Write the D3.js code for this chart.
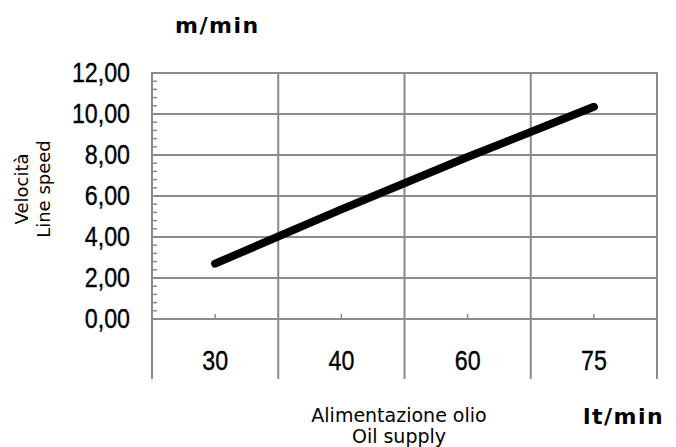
<!DOCTYPE html>
<html><head><meta charset="utf-8">
<script src="https://cdn.jsdelivr.net/npm/d3@7"></script>
<style>body{margin:0;background:#fff}</style>
</head><body><svg id="c" width="676" height="447"></svg>
<script>
const categories = ["30", "40", "60", "75"];
const speeds = [2.7, 5.35, 7.9, 10.35];
const yTicks = [0, 2, 4, 6, 8, 10, 12];
const yTickLabels = ["0,00", "2,00", "4,00", "6,00", "8,00", "10,00", "12,00"];
const yUnit = "m/min";
const xUnit = "lt/min";
const yTitle = ["Velocità", "Line speed"];
const xTitle = ["Alimentazione olio", "Oil supply"];

const svg = d3.select("#c");
const L = 152, R = 657, T = 73, B = 319, AXB = 379;
const x = d3.scaleBand().domain(categories).range([L, R]).padding(0);
const y = d3.scaleLinear().domain([0, 12]).range([B, T]);
const grid = "#8a8a8a";

// horizontal gridlines
svg.append("g").selectAll("line").data(yTicks).join("line")
  .attr("x1", L).attr("x2", R)
  .attr("y1", d => y(d)).attr("y2", d => y(d))
  .attr("stroke", grid).attr("stroke-width", 2);

// vertical lines (band boundaries)
const bounds = categories.map(c => x(c)).concat([R]);
svg.append("g").selectAll("line").data(bounds).join("line")
  .attr("x1", d => d).attr("x2", d => d)
  .attr("y1", T - 1).attr("y2", AXB)
  .attr("stroke", grid).attr("stroke-width", 2);

// minor ticks on left axis
const minor = d3.range(0, 31).filter(i => i % 5 !== 0).map(i => i * 0.4);
svg.append("g").selectAll("line").data(minor).join("line")
  .attr("x1", L).attr("x2", L + 5)
  .attr("y1", d => y(d)).attr("y2", d => y(d))
  .attr("stroke", grid).attr("stroke-width", 1.5);

// small x ticks at band centres
svg.append("g").selectAll("line").data(categories).join("line")
  .attr("x1", d => x(d) + x.bandwidth() / 2).attr("x2", d => x(d) + x.bandwidth() / 2)
  .attr("y1", B).attr("y2", B - 5)
  .attr("stroke", grid).attr("stroke-width", 1.5);

// axes labels
const tickFont = "'Liberation Sans', Arial, sans-serif";
const yAxis = svg.append("g").attr("transform", `translate(${L},0)`)
  .call(d3.axisLeft(y).tickValues(yTicks).tickFormat((d, i) => yTickLabels[i]).tickSize(0).tickPadding(22));
yAxis.select(".domain").remove();
const xAxis = svg.append("g").attr("transform", `translate(0,${B})`)
  .call(d3.axisBottom(x).tickSize(0));
xAxis.select(".domain").remove();
xAxis.selectAll("text").attr("y", 51).attr("dy", 0);
svg.selectAll(".tick text")
  .attr("font-family", tickFont).attr("font-size", 27).attr("fill", "#000")
  .attr("stroke", "#000").attr("stroke-width", 0.35)
  .each(function () {
    const w = this.getComputedTextLength();
    d3.select(this).attr("textLength", w * 0.86).attr("lengthAdjust", "spacingAndGlyphs");
  });

// data line
const line = d3.line()
  .x((d, i) => x(categories[i]) + x.bandwidth() / 2)
  .y(d => y(d));
svg.append("path").datum(speeds)
  .attr("d", line).attr("fill", "none")
  .attr("stroke", "#000").attr("stroke-width", 8)
  .attr("stroke-linecap", "round").attr("stroke-linejoin", "round");

// titles
const titleFont = "'DejaVu Sans', sans-serif";
svg.append("text").text(yUnit)
  .attr("x", 175).attr("y", 33)
  .attr("font-family", titleFont).attr("font-weight", "bold").attr("font-size", 22)
  .attr("letter-spacing", 1.5).attr("fill", "#000");
svg.append("text").text(xUnit)
  .attr("x", 583).attr("y", 424)
  .attr("font-family", titleFont).attr("font-weight", "bold").attr("font-size", 22)
  .attr("letter-spacing", 1.5).attr("fill", "#000");

const yt = svg.append("text")
  .attr("transform", "translate(0,189) rotate(-90)")
  .attr("text-anchor", "middle")
  .attr("font-family", titleFont).attr("font-size", 18).attr("fill", "#000");
yt.selectAll("tspan").data(yTitle).join("tspan")
  .attr("x", 0).attr("y", (d, i) => [28, 50][i]).text(d => d);

const xt = svg.append("text")
  .attr("text-anchor", "middle")
  .attr("font-family", titleFont).attr("font-size", 19).attr("fill", "#000");
xt.selectAll("tspan").data(xTitle).join("tspan")
  .attr("x", 399).attr("y", (d, i) => [422, 443][i]).text(d => d);
</script>
</body></html>
